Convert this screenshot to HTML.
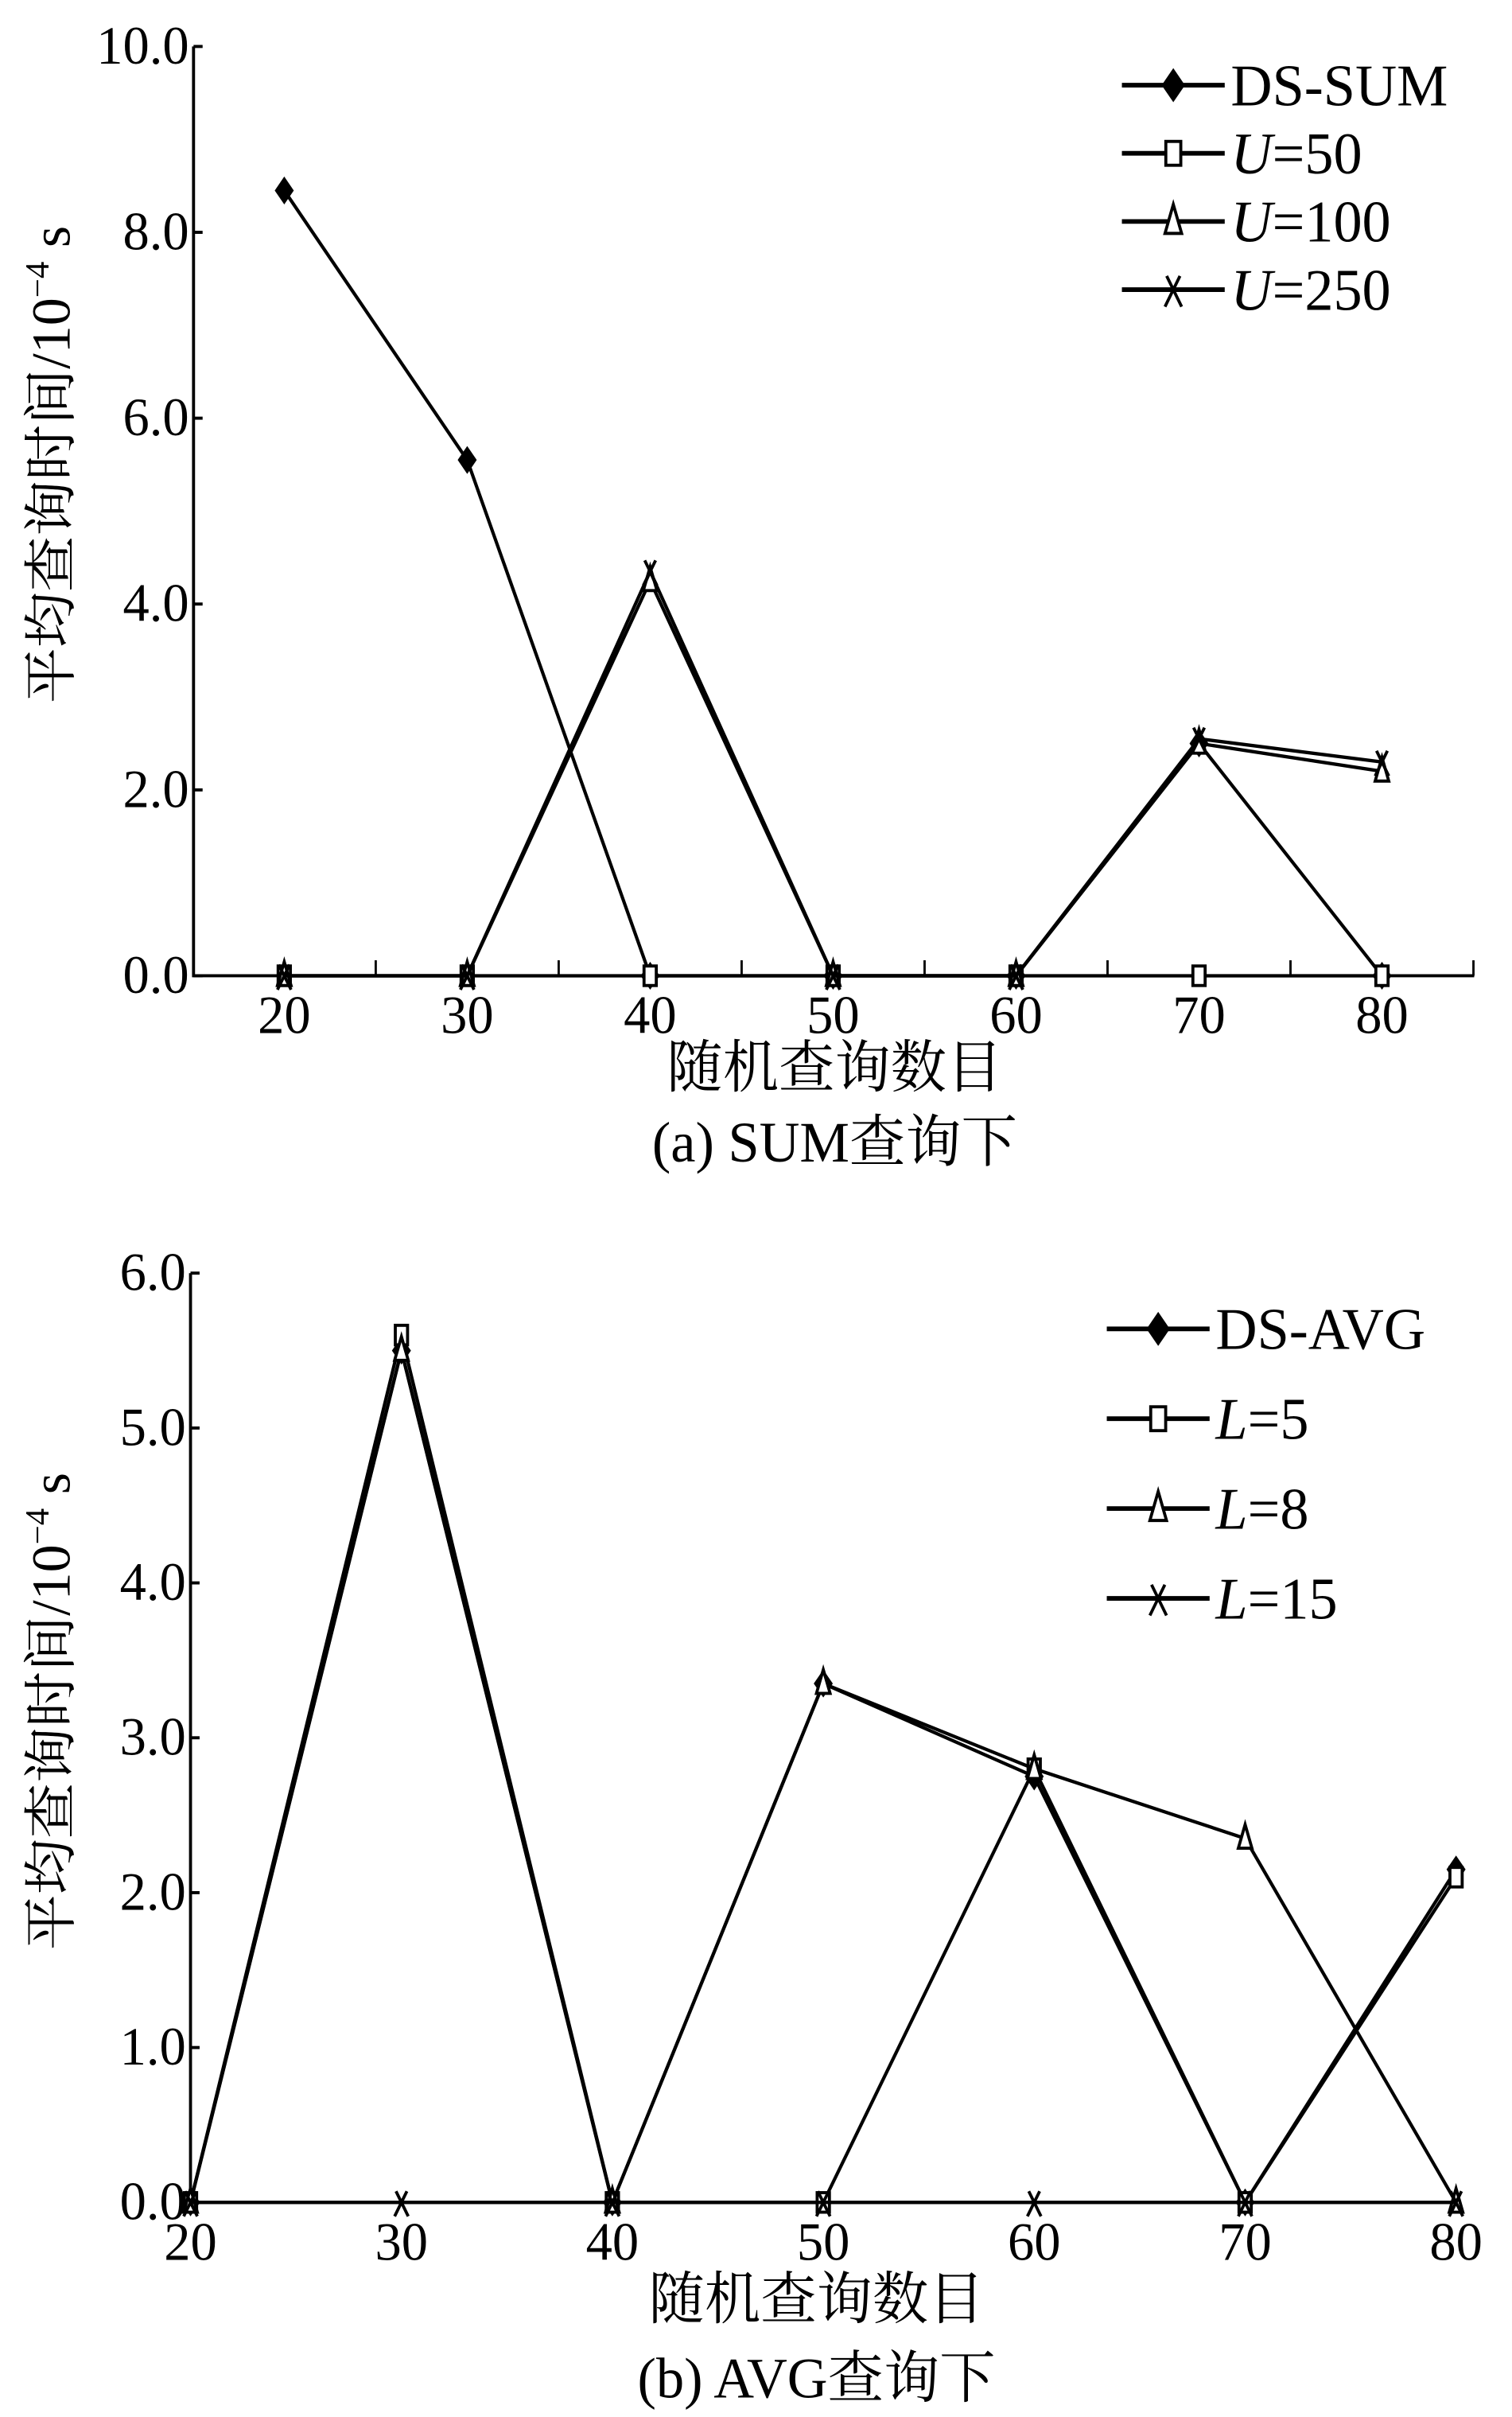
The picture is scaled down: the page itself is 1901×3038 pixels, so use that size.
<!DOCTYPE html>
<html><head><meta charset="utf-8"><style>
html,body{margin:0;padding:0;background:#fff;}
svg{display:block;}
text{font-family:"Liberation Serif","Noto Serif CJK SC","Noto Sans CJK SC",serif;fill:#000;}
</style></head><body>
<svg id="fig" width="1901" height="3038" viewBox="0 0 1000 1598" preserveAspectRatio="none" xmlns="http://www.w3.org/2000/svg"><g id="root" transform="scale(1,1.024)"></g></svg>
<script>
const categories=[20,30,40,50,60,70,80];
const sumLabels=["DS-SUM","U=50","U=100","U=250"];
const sumDS=[8.45,5.55,0,0,0,2.5,0];
const sumU50=[0,0,0,0,0,0,0];
const sumU100=[0,0,4.25,0,0,2.5,2.2];
const sumU250=[0,0,4.35,0,0,2.55,2.3];
const sumYTicks=["0.0","2.0","4.0","6.0","8.0","10.0"];
const avgLabels=["DS-AVG","L=5","L=8","L=15"];
const avgDS=[0,5.5,0,3.35,2.75,0,2.15];
const avgL5=[0,5.6,0,0,2.8,0,2.1];
const avgL8=[0,5.5,0,3.35,2.8,2.35,0];
const avgL15=[0,0,0,0,0,0,0];
const avgYTicks=["0.0","1.0","2.0","3.0","4.0","5.0","6.0"];

const NS="http://www.w3.org/2000/svg";
const svg=document.getElementById('root');
function mk(tag,attrs,parent){const e=document.createElementNS(NS,tag);for(const k in attrs)e.setAttribute(k,attrs[k]);(parent||svg).appendChild(e);return e;}
function marker(g,type,x,y,s){
  if(type===0)return mk('polygon',{points:`${x},${y-s} ${x+s*0.7},${y} ${x},${y+s} ${x-s*0.7},${y}`,fill:'#000'},g);
  if(type===1)return mk('rect',{x:x-s*0.45,y:y-s*0.7,width:s*0.9,height:s*1.4,fill:'#fff',stroke:'#000','stroke-width':2},g);
  if(type===2)return mk('polygon',{points:`${x},${y-s} ${x+s*0.5},${y+s*0.7} ${x-s*0.5},${y+s*0.7}`,fill:'#fff',stroke:'#000','stroke-width':2},g);
  return mk('path',{d:`M${x-s*0.5},${y+s} L${x},${y} L${x+s*0.5},${y+s} M${x},${y} L${x-s*0.4},${y-s*0.8} M${x},${y} L${x+s*0.4},${y-s*0.8}`,stroke:'#000','stroke-width':2,fill:'none'},g);
}
function chart(o){
  const g=mk('g',{});
  
  
  const xs=v=>o.x0+(v-o.v0)*o.dx;
  const ys=v=>o.yBottom-(v/o.yMax)*(o.yBottom-o.yTop);
  const ax=mk('path',{d:`M${o.axL},${o.yTop} L${o.axL},${o.yBottom} L${o.axR},${o.yBottom}`,stroke:'#000','stroke-width':2,fill:'none'},g);
  
  
  o.yTicks.forEach(t=>{
    const v=parseFloat(t);const y=ys(v);
    mk('line',{x1:o.axL-(o.tickOut?0:0),x2:o.axL+6,y1:y,y2:y,stroke:'#000','stroke-width':2},g);
    const tx=mk('text',{x:o.axL-3,y:y+11,'font-size':35,'text-anchor':'end'},g);tx.textContent=t;
    
    
  });
  categories.forEach(c=>{
    const tx=mk('text',{x:xs(c),y:o.yBottom+37,'font-size':35,'text-anchor':'middle'},g);tx.textContent=c;
    
    
    if(o.midTicks){const mx=xs(c)+o.dx*5;mk('line',{x1:mx,x2:mx,y1:o.yBottom,y2:o.yBottom-10,stroke:'#000','stroke-width':1.5},g);}
  });
  o.series.forEach((s,si)=>{
    const pts=s.map((v,i)=>xs(categories[i])+','+ys(v)).join(' ');
    const pl=mk('polyline',{points:pts,fill:'none',stroke:'#000','stroke-width':2.2},g);
    
    
    s.forEach((v,i)=>marker(g,si,xs(categories[i]),ys(v),9));
  });
  o.labels.forEach((l,i)=>{
    const y=o.legY+i*o.legDy;
    const lg=mk('g',{},g);
    
    
    mk('line',{x1:o.legX,x2:o.legX+68,y1:y,y2:y,stroke:'#000','stroke-width':3},lg);
    marker(lg,i,o.legX+34,y,11);
    const t=mk('text',{x:o.legX+72,y:y+13,'font-size':38},lg);
    if(l.includes('=')){const [a,b]=l.split('=');const s1=mk('tspan',{'font-style':'italic'},t);s1.textContent=a;const s2=mk('tspan',{},t);s2.textContent='='+b;}
    else t.textContent=l;
  });
  const xt=mk('text',{x:o.xTitleX,y:o.xTitleY,'font-size':37,'text-anchor':'middle'},g);xt.textContent='随机查询数目';
  
  
  const yt=mk('text',{x:0,y:0,'font-size':36,'text-anchor':'middle',transform:`translate(46,${o.yTitleY}) rotate(-90)`},g);
  yt.textContent='平均查询时间/10';
  const sup=mk('tspan',{'font-size':22,dy:-14},yt);sup.textContent='−4';
  const s2=mk('tspan',{dy:14},yt);s2.textContent=' s';
  
  
  const cap=mk('text',{x:o.xTitleX,y:o.capY,'font-size':37,'text-anchor':'middle'},g);cap.textContent=o.caption;
  
  
}
chart({name:'chart-sum',x0:188,v0:20,dx:12.1,yTop:30,yBottom:630,yMax:10,axL:128,axR:975,yTicks:sumYTicks,tickOut:true,midTicks:true,
  series:[sumDS,sumU50,sumU100,sumU250],labels:sumLabels,legX:742,legY:55,legDy:44,
  xTitleX:552,xTitleY:702,yTitleY:300,capY:750,caption:'(a) SUM查询下'});
chart({name:'chart-avg',x0:126,v0:20,dx:13.95,yTop:822,yBottom:1422,yMax:6,axL:126,axR:963,yTicks:avgYTicks,tickOut:false,midTicks:false,
  series:[avgDS,avgL5,avgL8,avgL15],labels:avgLabels,legX:732,legY:858,legDy:58,
  xTitleX:540,xTitleY:1497,yTitleY:1105,capY:1548,caption:'(b) AVG查询下'});
</script>
</body></html>
